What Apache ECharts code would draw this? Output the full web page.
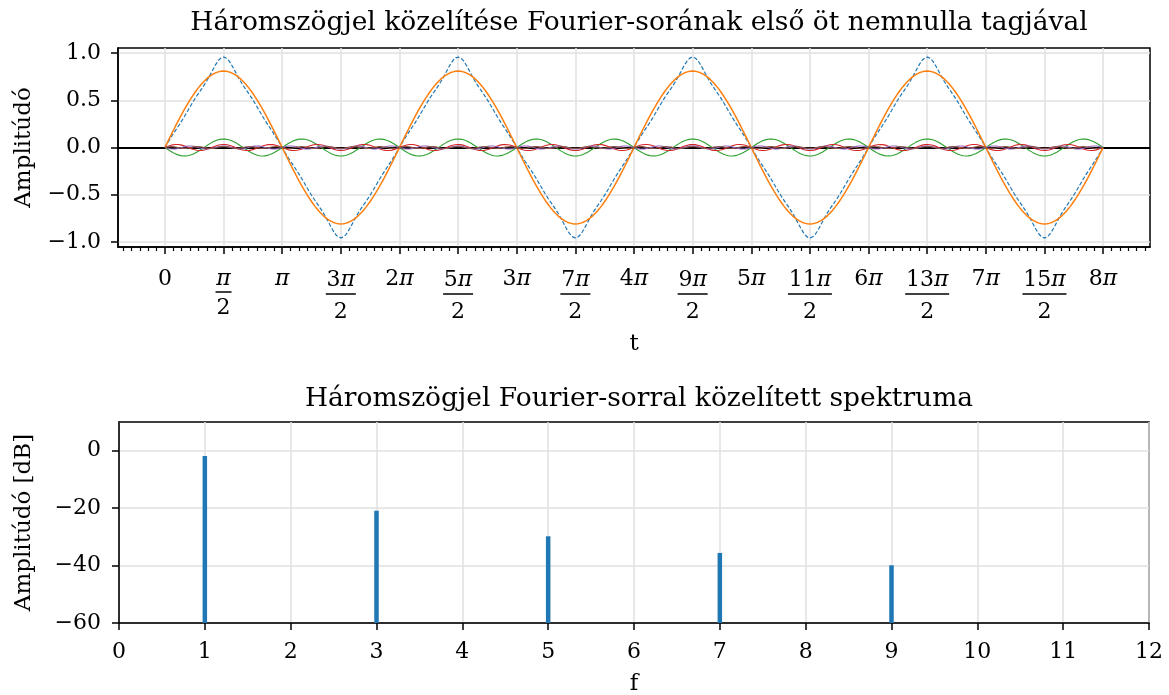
<!DOCTYPE html>
<html>
<head>
<meta charset="utf-8">
<script src="https://cdn.jsdelivr.net/npm/echarts@6/dist/echarts.min.js"></script>
<style>
html,body{margin:0;padding:0;background:#fff;}
#chart{width:1169px;height:695px;}
</style>
</head>
<body>
<div id="chart"></div>
<script>
// ---- values ----
const harmonics = [1, 3, 5, 7, 9];                         // harmonic numbers of the five nonzero terms
const amplitudes = [0.81, -0.09, 0.0324, -0.0165, 0.01];   // peak amplitude (with sign) of each term
const spectrumFreq = [1, 3, 5, 7, 9];
const spectrumDb = [-1.8, -20.9, -29.8, -35.6, -39.9];     // stem heights [dB]
const xTickLabels = ['0','π/2','π','3π/2','2π','5π/2','3π','7π/2','4π','9π/2','5π','11π/2','6π','13π/2','7π','15π/2','8π'];
const yTickTop = [-1.0, -0.5, 0.0, 0.5, 1.0];
const xTickBottom = [0,1,2,3,4,5,6,7,8,9,10,11,12];
const yTickBottom = [-60, -40, -20, 0];
const titleTop = 'Háromszögjel közelítése Fourier-sorának első öt nemnulla tagjával';
const titleBottom = 'Háromszögjel Fourier-sorral közelített spektruma';

const colors = ['#1f77b4','#ff7f0e','#2ca02c','#d62728','#9467bd','#8c564b'];
const FONT = 'DejaVu Serif';
const FS = 22;
const PI = Math.PI;

// sample the Fourier terms over 0..8π
const N = 3200, T_END = 8 * PI;
const tVals = [];
for (let i = 0; i <= N; i++) tVals.push(T_END * i / N);
const components = harmonics.map((h, j) => tVals.map(t => [t, amplitudes[j] * Math.sin(h * t)]));
const sumSeries = tVals.map((t, i) => [t, components.reduce((s, c) => s + c[i][1], 0)]);

const majorX = xTickLabels.map((_, k) => k * PI / 2);
const xMin = -0.4 * PI, xMax = 8.4 * PI;
const minorStep = PI / 14;
const minorX = [];
for (let k = Math.ceil(xMin / minorStep); k * minorStep <= xMax; k++) {
  if (k % 7 !== 0) minorX.push(k * minorStep);
}

function fracLabel(v) {
  const k = Math.round(v / (PI / 2));
  const s = xTickLabels[k];
  if (s === undefined) return '';
  const fmtPi = (str, sfx) => {
    const idx = str.indexOf('π');
    if (idx < 0) return '{n' + sfx + '|' + str + '}';
    const c = str.slice(0, idx);
    return (c ? '{n' + sfx + '|' + c + '}' : '') + '{p' + sfx + '|π}';
  };
  if (s.indexOf('/') >= 0) {
    const parts = s.split('/');
    const digits = parts[0].replace('π', '').length;
    const sfx = digits > 0 ? '2' : '';
    return fmtPi(parts[0], sfx) + '\n{b' + digits + '| }\n{d' + sfx + '|' + parts[1] + '}';
  }
  return fmtPi(s, '');
}
const minus = s => String(s).replace('-', '\u2212');

const tickStyle = {color:'#000', width:1.5};
const labelBase = {color:'#000', fontFamily: FONT, fontSize: FS};
const nameStyle = {fontFamily: FONT, fontSize: 23, color: '#000'};
const gridLine = {show: true, lineStyle: {color: '#e0e0e0', width: 1.5}};
const titleStyle = {fontFamily: FONT, fontSize: 26.5, fontWeight: 'normal', color: '#000'};
const txt = (lh, extra) => Object.assign({fontFamily: FONT, fontSize: FS, color: '#000', lineHeight: lh}, extra || {});
const bar = w => ({width: w, height: 1.5, lineHeight: 4, backgroundColor: '#000', fontSize: 1});

const option = {
  animation: false,
  backgroundColor: '#fff',
  title: [
    {text: titleTop, left: 634, top: 5, textAlign: 'center', textStyle: titleStyle},
    {text: titleBottom, left: 634, top: 381, textAlign: 'center', textStyle: titleStyle}
  ],
  grid: [
    {left: 118, right: 19, top: 48, height: 199, show: true, borderColor: '#000', borderWidth: 1.5,
     backgroundColor: 'transparent', containLabel: false, outerBoundsMode: 'none'},
    {left: 119, right: 20, top: 422, height: 201, show: true, borderColor: '#000', borderWidth: 1.5,
     backgroundColor: 'transparent', containLabel: false, outerBoundsMode: 'none'}
  ],
  xAxis: [
    {gridIndex: 0, type: 'value', min: xMin, max: xMax, position: 'bottom',
     name: 't', nameLocation: 'middle', nameGap: 86, nameTextStyle: nameStyle,
     axisLine: {onZero: false, lineStyle: tickStyle},
     axisTick: {customValues: majorX, length: 7, lineStyle: tickStyle},
     axisLabel: Object.assign({}, labelBase, {customValues: majorX, margin: 21, formatter: fracLabel,
       rich: {
         n: txt(22), p: txt(22, {fontStyle: 'italic'}), d: txt(28),
         n2: txt(24), p2: txt(24, {fontStyle: 'italic'}), d2: txt(32),
         b0: bar(16), b1: bar(30), b2: bar(44)
       }}),
     splitLine: gridLine},
    {gridIndex: 0, type: 'value', min: xMin, max: xMax, position: 'bottom',
     axisLine: {show: false, onZero: false}, axisLabel: {show: false}, splitLine: {show: false},
     axisTick: {customValues: minorX, length: 4, lineStyle: {color: '#000', width: 1.2}}},
    {gridIndex: 1, type: 'value', min: 0, max: 12, position: 'bottom',
     name: 'f', nameLocation: 'middle', nameGap: 50, nameTextStyle: nameStyle,
     axisLine: {onZero: false, lineStyle: tickStyle},
     axisTick: {customValues: xTickBottom, length: 7, lineStyle: tickStyle},
     axisLabel: Object.assign({}, labelBase, {customValues: xTickBottom, margin: 18}),
     splitLine: gridLine}
  ],
  yAxis: [
    {gridIndex: 0, type: 'value', min: -1.055, max: 1.055,
     name: 'Amplitúdó', nameLocation: 'middle', nameGap: 82, nameRotate: 90, nameTextStyle: nameStyle,
     axisLine: {onZero: false, lineStyle: tickStyle},
     axisTick: {customValues: yTickTop, length: 7, lineStyle: tickStyle},
     axisLabel: Object.assign({}, labelBase, {customValues: yTickTop, margin: 17,
       formatter: v => minus(v.toFixed(1))}),
     splitLine: gridLine},
    {gridIndex: 1, type: 'value', min: -60, max: 10,
     name: 'Amplitúdó [dB]', nameLocation: 'middle', nameGap: 83, nameRotate: 90, nameTextStyle: nameStyle,
     axisLine: {onZero: false, lineStyle: tickStyle},
     axisTick: {customValues: yTickBottom, length: 7, lineStyle: tickStyle},
     axisLabel: Object.assign({}, labelBase, {customValues: yTickBottom, margin: 18,
       formatter: v => minus(v)}),
     splitLine: gridLine}
  ],
  series: [
    {type: 'line', xAxisIndex: 0, yAxisIndex: 0, data: sumSeries, showSymbol: false, z: 3,
     lineStyle: {color: colors[0], width: 1.2, type: [4, 2]},
     markLine: {silent: true, symbol: 'none', label: {show: false},
       lineStyle: {color: '#000', width: 1.8, type: 'solid'}, data: [{yAxis: 0}], z: 2}}
  ].concat(components.map((c, j) => ({
    type: 'line', xAxisIndex: 0, yAxisIndex: 0, data: c, showSymbol: false, z: 4,
    lineStyle: {color: colors[j + 1], width: j === 0 ? 1.5 : 1.1}
  }))).concat([
    {type: 'custom', xAxisIndex: 2, yAxisIndex: 1,
     data: spectrumFreq.map((f, i) => [f, spectrumDb[i]]),
     renderItem: function (params, api) {
       const x = api.value(0), y = api.value(1);
       const p0 = api.coord([x, -60]);
       const p1 = api.coord([x, y]);
       return {type: 'line', shape: {x1: p0[0], y1: p0[1], x2: p1[0], y2: p1[1]},
               style: {stroke: colors[0], lineWidth: 4.5}};
     }}
  ])
};

const chart = echarts.init(document.getElementById('chart'), null, {renderer: 'canvas'});
chart.setOption(option);
</script>
</body>
</html>
